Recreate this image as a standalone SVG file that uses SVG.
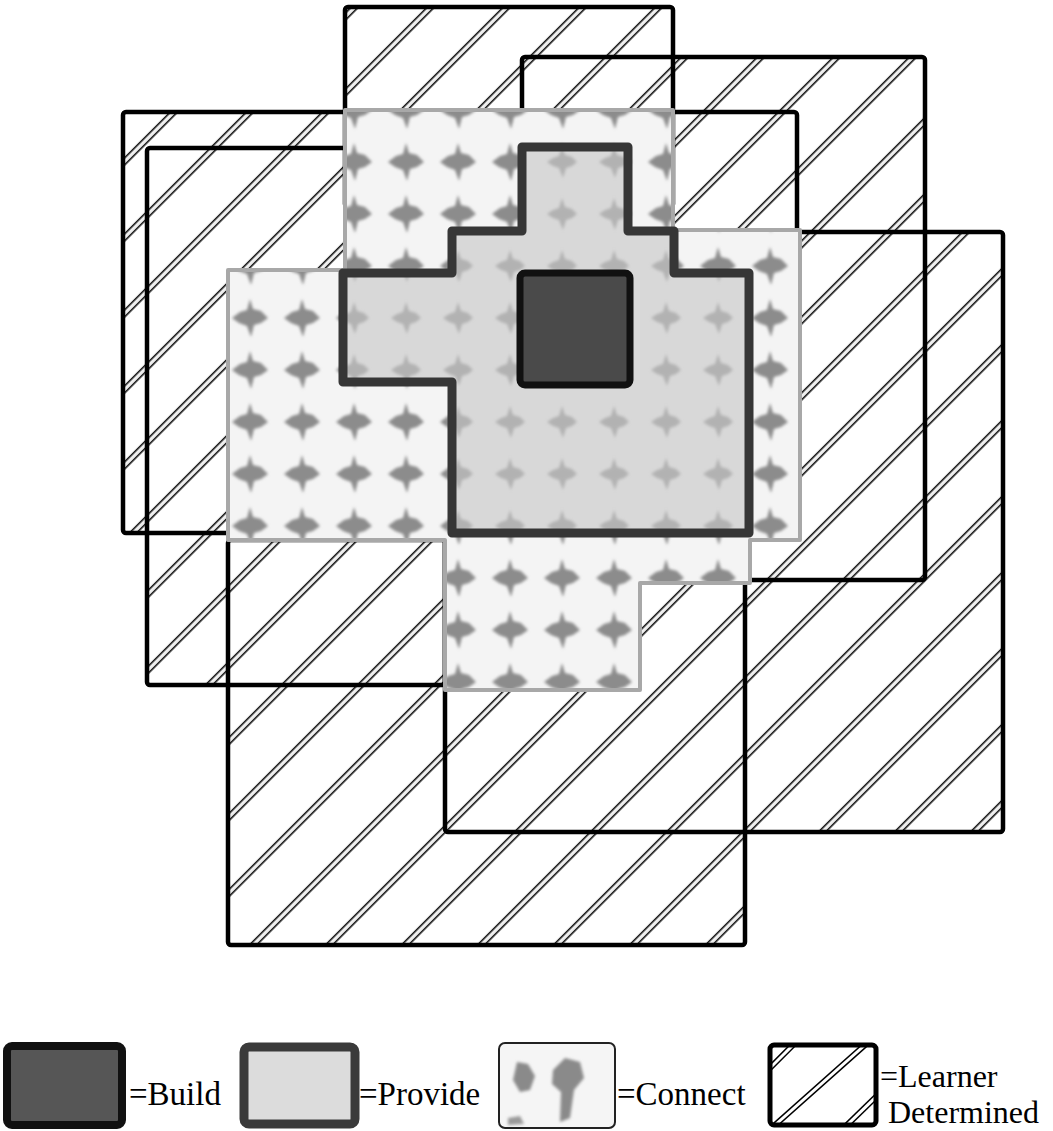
<svg xmlns="http://www.w3.org/2000/svg" width="1053" height="1131" viewBox="0 0 1053 1131">
  <style>
    .ld { fill: none; stroke: #000; stroke-width: 4.5; stroke-linejoin: round; }
    .hatchfill { fill: url(#hatch); stroke: none; }
    .lbl { font-size: 33px; fill: #000; }
    .lbl2 { font-size: 32px; fill: #000; }
    .dblo { stroke: #000; stroke-width: 6; stroke-linecap: butt; }
    .dbli { stroke: #fff; stroke-width: 3; stroke-linecap: butt; }
  </style>
  <defs>
    <filter id="blur" x="-30%" y="-30%" width="160%" height="160%">
      <feGaussianBlur stdDeviation="1.8"/>
    </filter>
    <pattern id="hatch" patternUnits="userSpaceOnUse" width="300" height="53.74" patternTransform="rotate(-45)">
      <rect width="300" height="53.74" fill="#fff"/>
      <rect y="37.75" width="300" height="6.5" fill="#000"/>
      <rect y="39.25" width="300" height="3.5" fill="#f0f0f0"/>
    </pattern>
    <pattern id="connectfill" patternUnits="userSpaceOnUse" x="16" y="32" width="52" height="52">
      <rect width="52" height="52" fill="#f4f4f4"/>
      <polygon points="26,7 29,17 37,19 44,26 37,31 30,33 27,45 23,34 15,31 8,26 16,20 23,18" fill="#8c8c8c" filter="url(#blur)"/>
    </pattern>
    <pattern id="providefill" patternUnits="userSpaceOnUse" x="16" y="32" width="52" height="52">
      <rect width="52" height="52" fill="#d8d8d8"/>
      <polygon points="26,10 29,19 36,21 41,26 36,30 30,32 27,42 23,32 17,30 11,26 17,22 23,20" fill="#b2b2b2" filter="url(#blur)"/>
    </pattern>
    <clipPath id="ldclip">
      <rect x="770" y="1045" width="106" height="80"/>
    </clipPath>
  </defs>

  <rect width="1053" height="1131" fill="#fff"/>

  <!-- Learner Determined areas: hatched fills -->
  <g id="learner-fills">
    <rect class="hatchfill" x="345" y="7" width="328" height="200"/>
    <rect class="hatchfill" x="522" y="57" width="403" height="523"/>
    <rect class="hatchfill" x="123" y="112" width="674" height="421"/>
    <rect class="hatchfill" x="147" y="148" width="298" height="537"/>
    <rect class="hatchfill" x="228" y="540" width="517" height="405"/>
    <rect class="hatchfill" x="445" y="232" width="558" height="600"/>
  </g>
  <!-- Learner Determined areas: outlines -->
  <g id="learner-a"><rect class="ld" x="345" y="7" width="328" height="200" rx="3"/></g>
  <g id="learner-b"><rect class="ld" x="522" y="57" width="403" height="523" rx="3"/></g>
  <g id="learner-c"><rect class="ld" x="123" y="112" width="674" height="421" rx="3"/></g>
  <g id="learner-d"><rect class="ld" x="147" y="148" width="298" height="537" rx="3"/></g>
  <g id="learner-e"><rect class="ld" x="228" y="540" width="517" height="405" rx="3"/></g>
  <g id="learner-f"><rect class="ld" x="445" y="232" width="558" height="600" rx="3"/></g>

  <!-- Connect area -->
  <g id="connect">
    <path d="M345,110 L673,110 L673,230 L800,230 L800,540 L750,540 L750,583 L640,583 L640,690 L445,690 L445,540 L228,540 L228,270 L345,270 Z" fill="url(#connectfill)" stroke="#a8a8a8" stroke-width="4" stroke-linejoin="round"/>
  </g>

  <!-- Provide area -->
  <g id="provide">
    <path d="M522,147 H628 V231 H674 V273 H749 V533 H452 V382 H343 V273 H452 V231 H522 Z" fill="url(#providefill)" stroke="#363636" stroke-width="9" stroke-linejoin="round"/>
  </g>

  <!-- Build area -->
  <g id="build">
    <rect x="520" y="273" width="110" height="112" rx="5" fill="#4a4a4a" stroke="#111" stroke-width="7"/>
  </g>

  <g id="connectors"/>

  <!-- Legend -->
  <g id="legend-build">
    <rect x="7" y="1046" width="115" height="79" rx="5" fill="#565656" stroke="#111" stroke-width="8"/>
    <text class="lbl" font-family="Liberation Serif, Times New Roman, DejaVu Serif, serif" x="129" y="1105">=Build</text>
  </g>
  <g id="legend-provide">
    <rect x="244" y="1047" width="111" height="77" rx="5" fill="#dcdcdc" stroke="#3a3a3a" stroke-width="9"/>
    <text class="lbl" font-family="Liberation Serif, Times New Roman, DejaVu Serif, serif" x="359" y="1105">=Provide</text>
  </g>
  <g id="legend-connect">
    <rect x="499" y="1043" width="116" height="85" rx="6" fill="#f5f5f5" stroke="#222" stroke-width="2"/>
    <polygon points="517,1062 528,1064 535,1076 530,1090 520,1092 513,1080" fill="#8a8a8a" filter="url(#blur)"/>
    <polygon points="553,1070 565,1058 580,1062 584,1078 574,1090 570,1118 560,1122 561,1092 552,1084" fill="#8a8a8a" filter="url(#blur)"/>
    <polygon points="508,1118 520,1116 524,1124 508,1125" fill="#9a9a9a" filter="url(#blur)"/>
    <text class="lbl" font-family="Liberation Serif, Times New Roman, DejaVu Serif, serif" x="617" y="1105">=Connect</text>
  </g>
  <g id="legend-learner">
    <g clip-path="url(#ldclip)">
      <rect x="770" y="1045" width="106" height="80" fill="#fff"/>
      <line class="dblo" x1="770" y1="1068" x2="795" y2="1043"/>
      <line class="dbli" x1="770" y1="1068" x2="795" y2="1043"/>
      <line class="dblo" x1="775" y1="1125" x2="865" y2="1045"/>
      <line class="dbli" x1="775" y1="1125" x2="865" y2="1045"/>
      <line class="dblo" x1="845" y1="1127" x2="878" y2="1095"/>
      <line class="dbli" x1="845" y1="1127" x2="878" y2="1095"/>
    </g>
    <rect x="770" y="1045" width="106" height="80" rx="4" fill="none" stroke="#000" stroke-width="5"/>
    <text class="lbl2" font-family="Liberation Serif, Times New Roman, DejaVu Serif, serif" x="880" y="1087">=Learner</text>
    <text class="lbl2" font-family="Liberation Serif, Times New Roman, DejaVu Serif, serif" x="888" y="1123">Determined</text>
  </g>
</svg>
